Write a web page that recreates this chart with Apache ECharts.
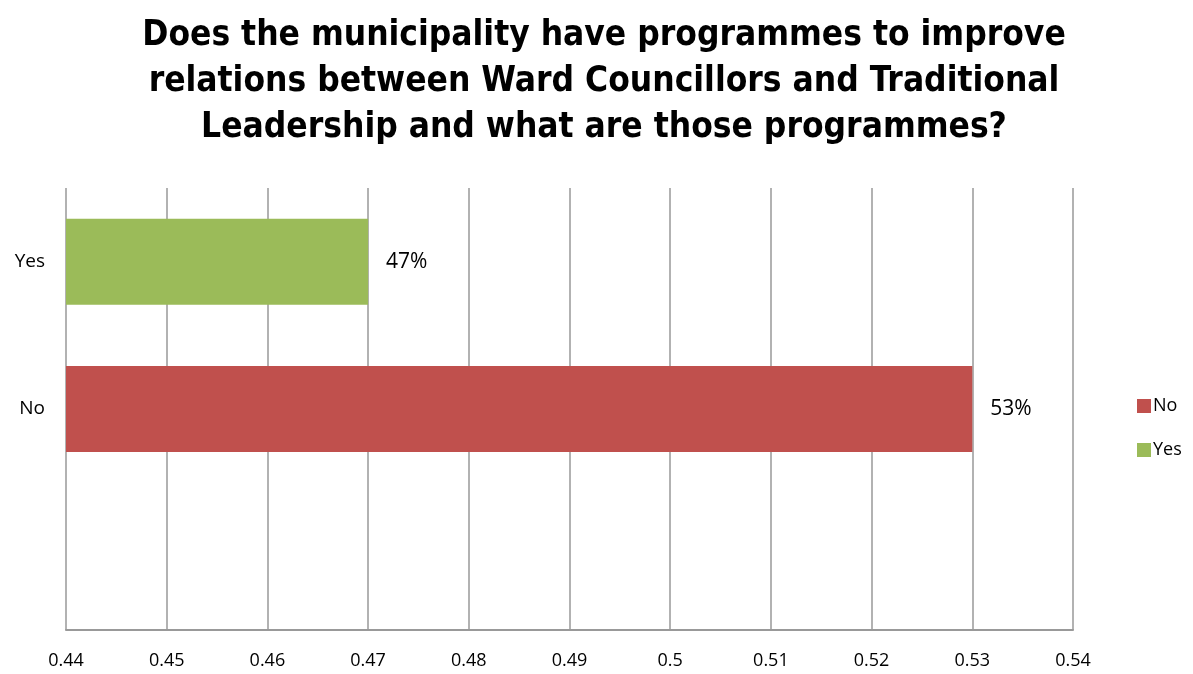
<!DOCTYPE html>
<html>
<head>
<meta charset="utf-8">
<script src="https://cdn.jsdelivr.net/npm/echarts@6/dist/echarts.min.js"></script>
<style>
  html, body { margin: 0; padding: 0; background: #fff; }
  #chart { width: 1193px; height: 674px; }
</style>
</head>
<body>
<div id="chart"></div>
<script>
// Answer categories, bottom to top (the lowest slot is left blank)
const categories = ['', 'No', 'Yes'];
// Share of respondents per answer
const noValues  = [null, 0.53, null];
const yesValues = [null, null, 0.47];
// Value axis range
const axisMin = 0.44;
const axisMax = 0.54;
const axisStep = 0.01;

const titleText = 'Does the municipality have programmes to improve\n' +
  'relations between Ward Councillors and Traditional\n' +
  'Leadership and what are those programmes?';

const baseFont = "'Open Sans', 'DejaVu Sans', sans-serif";
const pct = p => Math.round(p.value * 100) + '%';

const chart = echarts.init(document.getElementById('chart'));
chart.setOption({
  animation: false,
  backgroundColor: '#ffffff',
  title: {
    text: titleText,
    left: 599,
    top: 8,
    textAlign: 'center',
    textStyle: {
      fontFamily: "'Liberation Sans Narrow', 'DejaVu Sans Condensed', 'DejaVu Sans', sans-serif",
      fontWeight: 'bold',
      fontSize: 35,
      lineHeight: 46,
      color: '#000'
    }
  },
  legend: {
    orient: 'vertical',
    left: 1132,
    top: 392,
    itemWidth: 14,
    itemHeight: 14,
    itemGap: 26,
    icon: 'rect',
    data: ['No', 'Yes'],
    textStyle: { fontFamily: baseFont, fontSize: 18, color: '#000', padding: [0, 0, 0, -3] }
  },
  grid: { left: 66, right: 120, top: 188, bottom: 44, containLabel: false },
  xAxis: {
    type: 'value',
    min: axisMin,
    max: axisMax,
    interval: axisStep,
    axisLine: { show: true, lineStyle: { color: '#999', width: 2 } },
    axisTick: { show: false },
    splitLine: { show: true, lineStyle: { color: '#999', width: 1.5 } },
    axisLabel: {
      margin: 22,
      fontFamily: baseFont,
      fontSize: 18,
      color: '#000',
      formatter: v => String(parseFloat(v.toFixed(2)))
    }
  },
  yAxis: {
    type: 'category',
    data: categories,
    axisLine: { show: false },
    axisTick: { show: false },
    axisLabel: { margin: 21, fontFamily: baseFont, fontSize: 19, color: '#000' }
  },
  series: [
    {
      name: 'No',
      type: 'bar',
      stack: 'answers',
      barWidth: 86,
      data: noValues,
      itemStyle: { color: '#C0504D' },
      label: { show: true, position: 'right', distance: 18, formatter: pct,
               fontFamily: baseFont, fontSize: 21, color: '#000' }
    },
    {
      name: 'Yes',
      type: 'bar',
      stack: 'answers',
      barWidth: 86,
      data: yesValues,
      itemStyle: { color: '#9BBB59' },
      label: { show: true, position: 'right', distance: 18, formatter: pct,
               fontFamily: baseFont, fontSize: 21, color: '#000' }
    }
  ]
});
</script>
</body>
</html>
